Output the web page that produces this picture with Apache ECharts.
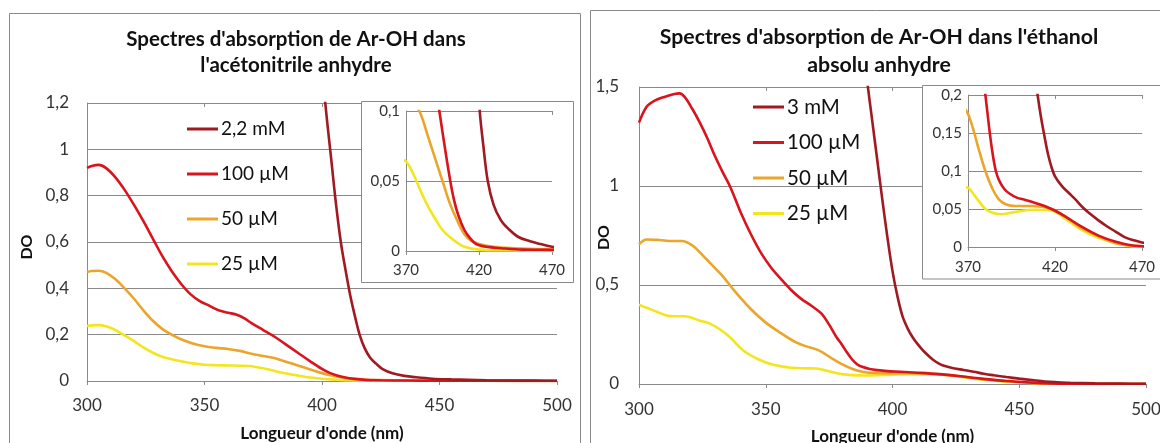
<!DOCTYPE html>
<html>
<head>
<meta charset="utf-8">
<script src="https://cdn.jsdelivr.net/npm/echarts@6/dist/echarts.min.js"></script>
<style>
html,body{margin:0;padding:0;background:#fff;}
#c{width:1160px;height:443px;}
</style>
</head>
<body>
<div id="c"></div>
<script>
// ---------- DATA : acetonitrile (left) ----------
const acn_wl_2_2mM = [395, 398, 400, 401.3, 404, 406, 408, 410, 412, 414, 416, 418, 420.5, 423, 426, 430, 435, 440, 447, 455, 462, 470, 480, 490, 500];
const acn_do_2_2mM = [2.1, 1.65, 1.38, 1.21, 0.95, 0.76, 0.6, 0.48, 0.37, 0.28, 0.2, 0.145, 0.1, 0.075, 0.05, 0.033, 0.022, 0.016, 0.01, 0.007, 0.005, 0.003, 0.002, 0.0015, 0.001];

const acn_wl_100uM = [300, 302, 305, 308, 312, 316, 320, 324, 328, 332, 336, 340, 344, 348, 352, 356, 360, 364, 367, 370, 375, 380, 385, 390, 395, 400, 403, 406, 410, 414, 418, 425, 435, 450, 470, 500];
const acn_do_100uM = [0.92, 0.928, 0.933, 0.92, 0.88, 0.825, 0.76, 0.69, 0.615, 0.54, 0.475, 0.42, 0.375, 0.345, 0.325, 0.305, 0.295, 0.285, 0.27, 0.25, 0.22, 0.19, 0.155, 0.12, 0.085, 0.052, 0.036, 0.025, 0.015, 0.009, 0.005, 0.003, 0.002, 0.001, 0.0008, 0];

const acn_wl_50uM = [300, 302, 305, 308, 312, 316, 320, 324, 328, 332, 336, 340, 345, 350, 355, 360, 365, 370, 375, 380, 385, 390, 395, 400, 405, 410, 415, 420, 430, 445, 470, 500];
const acn_do_50uM = [0.47, 0.475, 0.476, 0.468, 0.44, 0.4, 0.355, 0.305, 0.26, 0.225, 0.2, 0.18, 0.162, 0.15, 0.143, 0.138, 0.13, 0.118, 0.108, 0.098, 0.082, 0.066, 0.05, 0.034, 0.022, 0.012, 0.007, 0.005, 0.003, 0.002, 0.001, 0];

const acn_wl_25uM = [300, 302, 305, 308, 312, 316, 320, 324, 328, 332, 336, 340, 345, 350, 355, 360, 365, 370, 375, 380, 385, 390, 395, 400, 405, 410, 420, 440, 470, 500];
const acn_do_25uM = [0.237, 0.24, 0.241, 0.236, 0.22, 0.197, 0.172, 0.145, 0.122, 0.105, 0.094, 0.085, 0.076, 0.07, 0.068, 0.067, 0.066, 0.064, 0.055, 0.043, 0.032, 0.023, 0.015, 0.01, 0.006, 0.003, 0.001, 0.0005, 0, 0];

// ---------- DATA : ethanol (right) ----------
const eth_wl_3mM = [386, 388, 390, 392, 394, 396, 398, 400, 402, 404, 406, 408, 410, 412, 414, 416, 418, 420, 424, 428, 432, 436, 440, 445, 450, 455, 460, 465, 470, 480, 490, 500];
const eth_do_3mM = [2.0, 1.75, 1.53, 1.33, 1.13, 0.93, 0.74, 0.57, 0.44, 0.34, 0.28, 0.235, 0.2, 0.17, 0.145, 0.122, 0.105, 0.093, 0.08, 0.071, 0.062, 0.052, 0.044, 0.035, 0.027, 0.02, 0.013, 0.009, 0.006, 0.003, 0.002, 0.001];

const eth_wl_100uM = [300, 303, 306, 310, 314, 316, 318, 321, 324, 327, 330, 333, 336, 340, 344, 348, 352, 356, 360, 364, 368, 372, 375, 378, 380, 382, 384, 386, 388, 391, 394, 398, 403, 410, 418, 426, 435, 445, 455, 462, 470, 485, 500];
const eth_do_100uM = [1.32, 1.40, 1.43, 1.45, 1.465, 1.468, 1.45, 1.39, 1.32, 1.24, 1.15, 1.07, 0.995, 0.87, 0.76, 0.665, 0.59, 0.53, 0.475, 0.43, 0.395, 0.355, 0.3, 0.235, 0.2, 0.16, 0.125, 0.1, 0.087, 0.076, 0.07, 0.065, 0.062, 0.057, 0.05, 0.04, 0.027, 0.015, 0.007, 0.003, 0.001, 0, 0];

const eth_wl_50uM = [300, 303, 308, 313, 317, 321, 324, 327, 330, 333, 338, 344, 350, 356, 362, 366, 370, 373, 376, 380, 384, 388, 392, 397, 407, 418, 426, 435, 445, 455, 462, 470, 485, 500];
const eth_do_50uM = [0.705, 0.73, 0.727, 0.722, 0.722, 0.70, 0.665, 0.625, 0.585, 0.545, 0.465, 0.38, 0.31, 0.257, 0.21, 0.19, 0.175, 0.155, 0.13, 0.1, 0.077, 0.062, 0.056, 0.054, 0.054, 0.05, 0.04, 0.025, 0.014, 0.005, 0.002, 0.001, 0, 0];

const eth_wl_25uM = [300, 303, 307, 312, 318, 324, 328, 332, 336, 341, 347, 353, 360, 366, 370, 373, 377, 380, 384, 389, 397, 408, 418, 426, 435, 445, 455, 462, 470, 500];
const eth_do_25uM = [0.40, 0.385, 0.365, 0.343, 0.342, 0.32, 0.305, 0.275, 0.235, 0.17, 0.125, 0.097, 0.082, 0.079, 0.078, 0.07, 0.058, 0.05, 0.045, 0.043, 0.046, 0.049, 0.048, 0.037, 0.023, 0.012, 0.005, 0.002, 0, 0];

// ---------- LABELS ----------
const titleLeft = "Spectres d'absorption de Ar-OH dans\nl'acétonitrile anhydre";
const titleRight = "Spectres d'absorption de Ar-OH dans l'éthanol\nabsolu anhydre";
const xName = "Longueur d'onde (nm)";
const yName = "DO";
const namesLeft = ["2,2 mM", "100 µM", "50 µM", "25 µM"];
const namesRight = ["3 mM", "100 µM", "50 µM", "25 µM"];

// ---------- STYLE ----------
const COLORS = ["#A11A22", "#D9141C", "#EBA52A", "#F2E61E"];
const FONT = "Lato, 'Open Sans', sans-serif";
const GRAY = "#8a8a8a";
const TXT = "#333";

function zip(xs, ys) { return xs.map((x, i) => [x, ys[i]]); }
function comma(v) { return String(+v.toFixed(3)).replace('.', ','); }

const leftSets = [[acn_wl_2_2mM, acn_do_2_2mM], [acn_wl_100uM, acn_do_100uM], [acn_wl_50uM, acn_do_50uM], [acn_wl_25uM, acn_do_25uM]];
const rightSets = [[eth_wl_3mM, eth_do_3mM], [eth_wl_100uM, eth_do_100uM], [eth_wl_50uM, eth_do_50uM], [eth_wl_25uM, eth_do_25uM]];

function xAxes(grid, min, max, interval, fontSize, margin, z, withName, nameGap) {
  const base = {
    type: 'value', gridIndex: grid, min: min, max: max, interval: interval, z: z,
    splitLine: { show: false }
  };
  return [
    Object.assign({}, base, {
      axisLine: { show: true, onZero: false, lineStyle: { color: GRAY, width: 1 } },
      axisTick: { show: true, inside: false, length: 4, lineStyle: { color: GRAY } },
      axisLabel: { fontSize: fontSize, fontFamily: FONT, color: TXT, margin: margin },
      name: withName ? xName : '', nameLocation: 'middle', nameGap: nameGap, nameMoveOverlap: false,
      nameTextStyle: { fontSize: 17, fontWeight: 'bold', fontFamily: FONT, color: '#111' }
    }),
    Object.assign({}, base, {
      axisLine: { show: false, onZero: false },
      axisTick: { show: true, inside: true, length: 4, lineStyle: { color: GRAY } },
      axisLabel: { show: false }
    })
  ];
}
function yAxis(grid, max, interval, fontSize, margin, z, withName, nameGap, namePad) {
  return {
    type: 'value', gridIndex: grid, min: 0, max: max, interval: interval, z: z,
    axisLine: { show: true, lineStyle: { color: GRAY, width: 1 } },
    axisTick: { show: false },
    splitLine: { show: true, lineStyle: { color: GRAY, width: 1 } },
    axisLabel: { fontSize: fontSize, fontFamily: FONT, color: TXT, margin: margin, formatter: comma },
    name: withName ? yName : '', nameLocation: 'middle', nameGap: nameGap, nameRotate: 90, nameMoveOverlap: false,
    nameTextStyle: { fontSize: 16, fontWeight: 'bold', fontFamily: FONT, color: '#111', padding: [0, namePad || 0, 0, 0] }
  };
}

const series = [];
function addSeries(sets, names, xIdx, yIdx, z) {
  for (let i = sets.length - 1; i >= 0; i--) {
    const s = sets[i];
    series.push({
      type: 'line', name: names[i], xAxisIndex: xIdx, yAxisIndex: yIdx, z: z,
      data: zip(s[0], s[1]), showSymbol: false, smooth: 0.35, clip: true,
      itemStyle: { color: COLORS[i] }, lineStyle: { color: COLORS[i], width: 2.6 }
    });
  }
}
addSeries(leftSets, namesLeft, 0, 0, 2);
addSeries(leftSets, namesLeft, 2, 1, 12);
addSeries(rightSets, namesRight, 4, 2, 2);
addSeries(rightSets, namesRight, 6, 3, 12);

const legendBase = {
  orient: 'vertical', icon: 'rect', itemWidth: 31, itemHeight: 3, padding: 0,
  selectedMode: false
};

const option = {
  animation: false,
  backgroundColor: '#fff',
  title: [
    { text: titleLeft, left: 296, top: 26, textAlign: 'center', padding: 0,
      textStyle: { fontSize: 20.5, fontWeight: 'bold', fontFamily: FONT, color: '#111', lineHeight: 26 } },
    { text: titleRight, left: 879, top: 23, textAlign: 'center', padding: 0,
      textStyle: { fontSize: 21.3, fontWeight: 'bold', fontFamily: FONT, color: '#111', lineHeight: 28 } }
  ],
  legend: [
    Object.assign({}, legendBase, { data: namesLeft, left: 187, top: 119, itemGap: 25,
      textStyle: { fontSize: 19, fontFamily: FONT, color: '#111', lineHeight: 20, padding: [0, 0, 0, -2] } }),
    Object.assign({}, legendBase, { data: namesRight, left: 753, top: 96, itemGap: 13.5,
      textStyle: { fontSize: 20.5, fontFamily: FONT, color: '#111', lineHeight: 22, padding: [0, 0, 0, -2] } })
  ],
  grid: [
    { left: 87, top: 103, width: 470, height: 278, outerBoundsMode: 'none', containLabel: false },
    { left: 406, top: 111, width: 146, height: 140, outerBoundsMode: 'none', containLabel: false },
    { left: 639, top: 87, width: 507, height: 297, outerBoundsMode: 'none', containLabel: false },
    { left: 968, top: 95, width: 174, height: 152, outerBoundsMode: 'none', containLabel: false }
  ],
  xAxis: [].concat(
    xAxes(0, 300, 500, 50, 17, 16, 1, true, 44),
    xAxes(1, 370, 470, 50, 15, 12, 10, false, 0),
    xAxes(2, 300, 500, 50, 17, 17, 1, true, 44),
    xAxes(3, 370, 470, 50, 15, 13, 10, false, 0)
  ),
  yAxis: [
    yAxis(0, 1.2, 0.2, 17, 18, 1, true, 52, 10),
    yAxis(1, 0.1, 0.05, 15, 6, 10, false, 0),
    yAxis(2, 1.5, 0.5, 17, 20, 1, true, 27, 4),
    yAxis(3, 0.2, 0.05, 15, 6, 10, false, 0)
  ],
  graphic: [
    { type: 'rect', z: 0, silent: true, shape: { x: 9.5, y: 13.5, width: 571, height: 450 },
      style: { fill: 'rgba(0,0,0,0)', stroke: GRAY, lineWidth: 1 } },
    { type: 'rect', z: 0, silent: true, shape: { x: 590.5, y: 10.5, width: 600, height: 450 },
      style: { fill: 'rgba(0,0,0,0)', stroke: GRAY, lineWidth: 1 } },
    { type: 'rect', z: 8, silent: true, shape: { x: 361.5, y: 101.5, width: 212, height: 181 },
      style: { fill: '#fff', stroke: GRAY, lineWidth: 1 } },
    { type: 'rect', z: 8, silent: true, shape: { x: 922.5, y: 85.5, width: 260, height: 193.5 },
      style: { fill: '#fff', stroke: GRAY, lineWidth: 1 } }
  ],
  series: series
};

const chart = echarts.init(document.getElementById('c'), null, { renderer: 'canvas' });
chart.setOption(option);
</script>
</body>
</html>
